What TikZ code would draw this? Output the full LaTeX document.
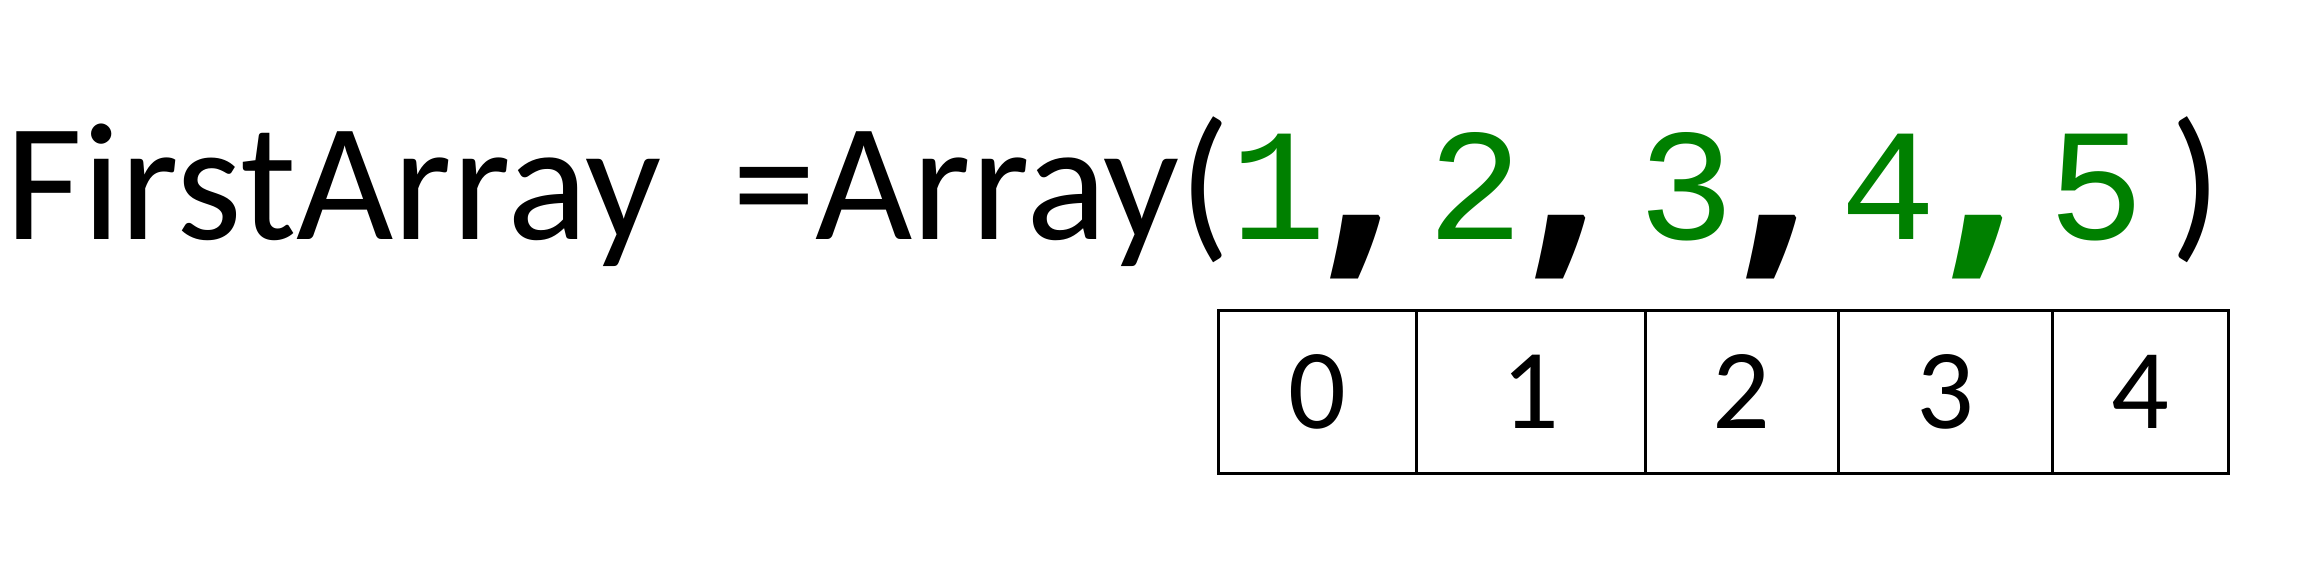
\documentclass[tikz,border=0pt]{standalone}
\usepackage{fontspec}
\setmainfont{Carlito}
\newfontfamily\codefont{Liberation Mono}
\newfontfamily\commafont{Open Sans}
\definecolor{codegreen}{RGB}{0,128,0}
\tikzset{
  big/.style={inner sep=0pt, font=\fontsize{168}{170}\selectfont},
  num/.style={inner sep=0pt, text=codegreen, font=\codefont\fontsize{160}{162}\selectfont},
  sep/.style={inner sep=0pt, font=\commafont\bfseries\fontsize{260}{262}\selectfont},
  cell/.style={draw=black, line width=3pt, inner sep=0pt, minimum height=163pt, font=\fontsize{114}{116}\selectfont},
}
\begin{document}
\begin{tikzpicture}[x=1pt,y=-1pt]
\useasboundingbox (0,0) rectangle (2315,581);
\node[big, anchor=base west] (lhs) at (5,239) {FirstArray};
\node[big, anchor=base] (eq) at (774,239) {=};
\node[big, anchor=base west] (rhs) at (815,239) {Array(};
\node[num, anchor=base] (n1) at (1278,239) {1};
\node[sep, anchor=base] (k1) at (1360,245) {,};
\node[num, anchor=base] (n2) at (1475,239) {2};
\node[sep, anchor=base] (k2) at (1565,245) {,};
\node[num, anchor=base] (n3) at (1686,239) {3};
\node[sep, anchor=base] (k3) at (1776,245) {,};
\node[num, anchor=base] (n4) at (1888,239) {4};
\node[sep, anchor=base, text=codegreen] (k4) at (1982,245) {,};
\node[num, anchor=base] (n5) at (2096,239) {5};
\node[big, anchor=base] (rp) at (2196,239) {)};
\node[cell, minimum width=198pt] (c0) at (1317,391.5) {0};
\node[cell, minimum width=229pt] (c1) at (1530.5,391.5) {1};
\node[cell, minimum width=193pt] (c2) at (1741.5,391.5) {2};
\node[cell, minimum width=214pt] (c3) at (1945,391.5) {3};
\node[cell, minimum width=176pt] (c4) at (2140,391.5) {4};
\end{tikzpicture}
\end{document}
